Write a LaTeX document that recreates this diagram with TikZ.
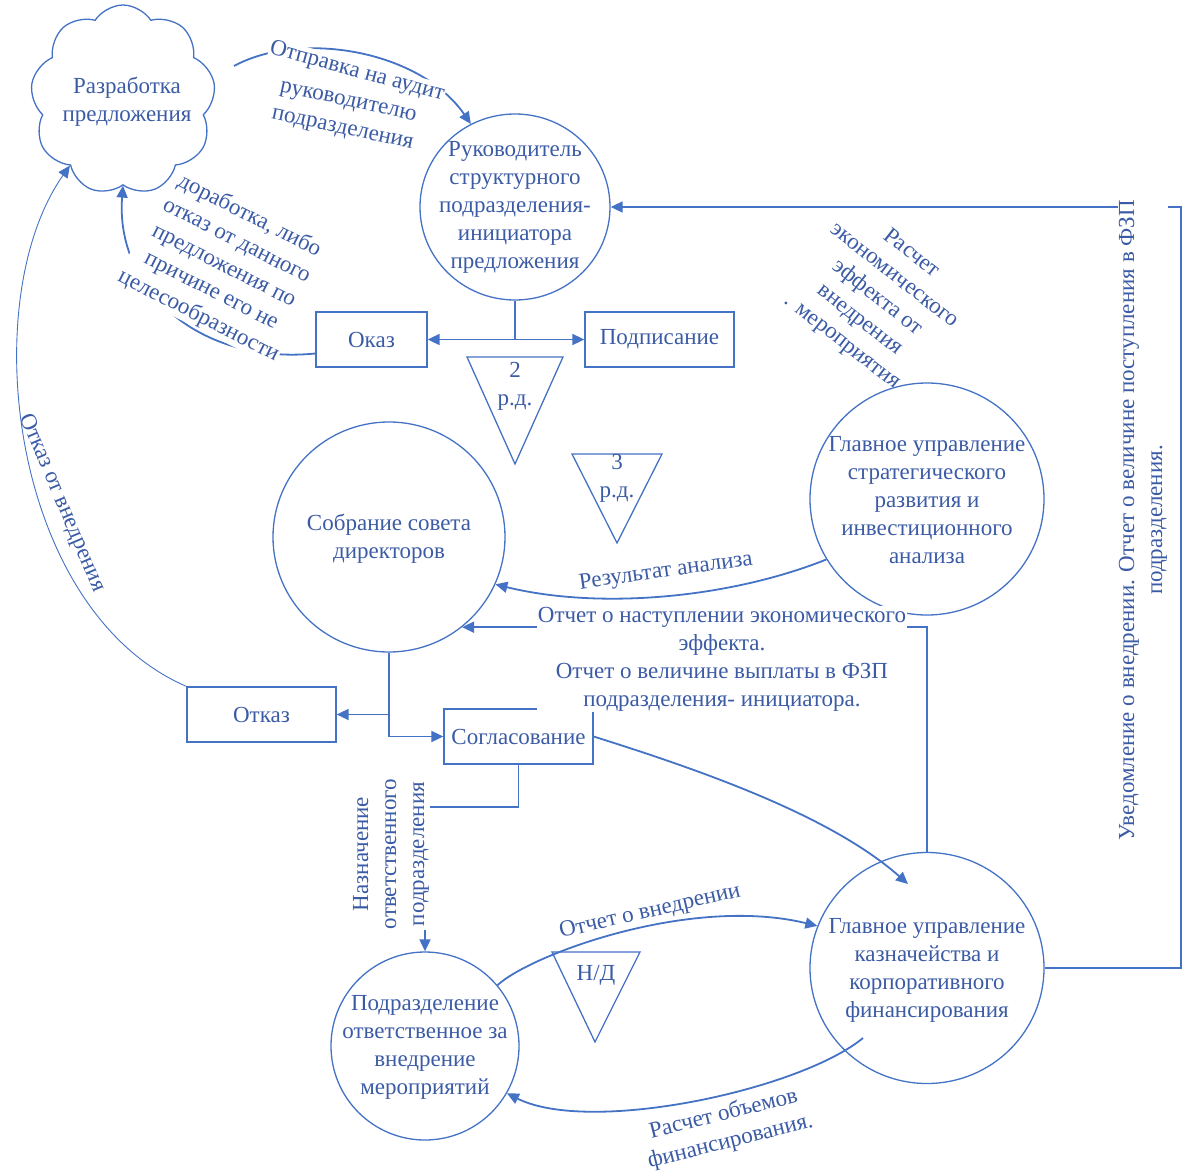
\documentclass[tikz,border=0pt]{standalone}
\usepackage{fontspec}
\newfontfamily\dfont{Liberation Serif}
\usetikzlibrary{shapes.geometric,shapes.symbols,arrows.meta}
\definecolor{lc}{HTML}{4472C4}
\definecolor{tc}{HTML}{3B5BA5}
\pgfdeclarelayer{bg}\pgfdeclarelayer{mid}\pgfsetlayers{bg,mid,main}
\begin{document}
\begin{tikzpicture}[x=1pt,y=-1pt,
  fnt/.style={font=\dfont\fontsize{23}{28}\selectfont, text=tc},
  proc/.style={ellipse, draw=lc, line width=1.3pt, inner sep=0pt},
  boxn/.style={fnt, rectangle, draw=lc, line width=1.3pt, inner sep=0pt, minimum height=55pt},
  arr/.style={draw=lc, line width=1.8pt, -{Triangle[length=12pt,width=11pt]}},
  tarr/.style={draw=lc, line width=0.9pt, -{Triangle[length=12pt,width=11pt]}},
  tri/.style={draw=lc, line width=1.3pt},
  lab/.style={fnt, align=center, inner sep=1pt},
  wlab/.style={lab, fill=white},
]
\useasboundingbox (0,0) rectangle (1184,1173);

% ---- shapes ----
\node[cloud, cloud puffs=9, cloud puff arc=115, aspect=1, draw=lc, line width=1.3pt, minimum width=185pt, minimum height=190pt, inner sep=0pt] (cloud) at (123,100) {};
\node[lab] (cloudt) at (127,102) {Разработка\\предложения};

\node[proc, minimum width=190pt, minimum height=186pt] (ruk) at (515,207) {};
\node[lab] (rukt) at (515,207) {Руководитель\\структурного\\подразделения-\\инициатора\\предложения};

\node[proc, minimum width=232pt, minimum height=230pt] (sobr) at (389,537) {};
\node[lab] (sobrt) at (389,539) {Собрание совета\\директоров};

\node[proc, minimum width=234pt, minimum height=232pt] (strat) at (927,499) {};
\node[lab] (stratt) at (927,500) {Главное управление\\стратегического\\развития и\\инвестиционного\\анализа};

\node[proc, minimum width=234pt, minimum height=231pt] (kaz) at (927,968) {};
\node[lab] (kazt) at (927,970) {Главное управление\\казначейства и\\корпоративного\\финансирования};

\node[proc, minimum width=188pt, minimum height=188pt] (podr) at (425,1046) {};
\node[lab] (podrt) at (425,1047) {Подразделение\\ответственное за\\внедрение\\мероприятий};

\node[boxn, minimum width=111pt] (okaz) at (371.5,339.5) {Оказ};
\node[boxn, minimum width=149pt] (podp) at (659.5,339.5) {Подписание};
\node[boxn, minimum width=149pt] (otkaz) at (261.5,714.5) {Отказ};
\node[boxn, minimum width=149pt] (sogl) at (518.5,736.5) {Согласование};

\draw[tri] (467,357) -- (563,357) -- (515,464) -- cycle;
\node[lab] (t2) at (515,386) {2\\р.д.};
\draw[tri] (572,454) -- (662,454) -- (617,543) -- cycle;
\node[lab] (t3) at (617,478) {3\\р.д.};
\draw[tri] (552,952) -- (640,952) -- (595,1042) -- cycle;
\node[lab] (tnd) at (596,975) {Н/Д};

\coordinate (c0) at (234,66);
\coordinate (k1) at (863,1038);
\coordinate (k2) at (908,884);
\coordinate (rc) at (1181,207);

% ---- connectors ----
\begin{pgfonlayer}{bg}
\draw[arr] (c0) .. controls (300,30) and (420,50) .. (ruk.118);
\draw[arr] (okaz.-166) .. controls (200,365) and (115,290) .. (cloud.south);
\draw[tarr] (otkaz.north west) .. controls (10,610) and (-25,300) .. (cloud.-129);
\draw[arr] (ruk.south) |- (okaz.east);
\draw[arr] (ruk.south) |- (podp.west);
\draw[arr] (strat.-149) .. controls (730,598) and (600,610) .. (sobr.-24);
\draw[arr] (kaz.north) |- (sobr.-51);
\draw[arr] (sobr.south) |- (otkaz.east);
\draw[arr] (sobr.south) |- (sogl.west);
\draw[arr] (sogl.south) -- ++(0,42) -| (podr.north);
\draw[arr] (sogl.east) .. controls (700,770) and (830,815) .. (k2);
\draw[arr] (podr.40) .. controls (530,955) and (690,895) .. (kaz.159);
\draw[arr] (k1) .. controls (800,1090) and (590,1135) .. (podr.-30);
\draw[arr] (kaz.east) -| (rc) -- (ruk.east);
\end{pgfonlayer}

% ---- labels ----
\begin{pgfonlayer}{mid}
\node[wlab, rotate=-15] (l1) at (357,72) {Отправка на аудит};
\node[lab, rotate=-12] (l2) at (345,117) {руководителю\\подразделения};
\node[wlab, rotate=-27] (l3) at (224,266) {доработка, либо\\отказ от данного\\предложения по\\причине его не\\целесообразности};
\node[lab, rotate=-67] (l4) at (62,503) {Отказ от внедрения};
\node[lab, rotate=-38] (l5) at (877,298) {Расчет\\экономического\\эффекта от\\внедрения\\. мероприятия};
\node[lab, rotate=8] (l6) at (666,572) {Результат анализа};
\node[wlab, rotate=90] (l8) at (391,854) {Назначение\\ответственного\\подразделения};
\node[wlab, rotate=13] (l9) at (650,912) {Отчет о внедрении};
\node[wlab, rotate=14] (l10) at (727,1128) {Расчет объемов\\финансирования.};
\node[wlab, rotate=90] (l11) at (1143,520) {Уведомление о внедрении. Отчет о величине поступления в ФЗП\\подразделения.};
\end{pgfonlayer}
\node[wlab] (l7) at (722,659) {Отчет о наступлении экономического\\эффекта.\\Отчет о величине выплаты в ФЗП\\подразделения- инициатора.};
\end{tikzpicture}
\end{document}
